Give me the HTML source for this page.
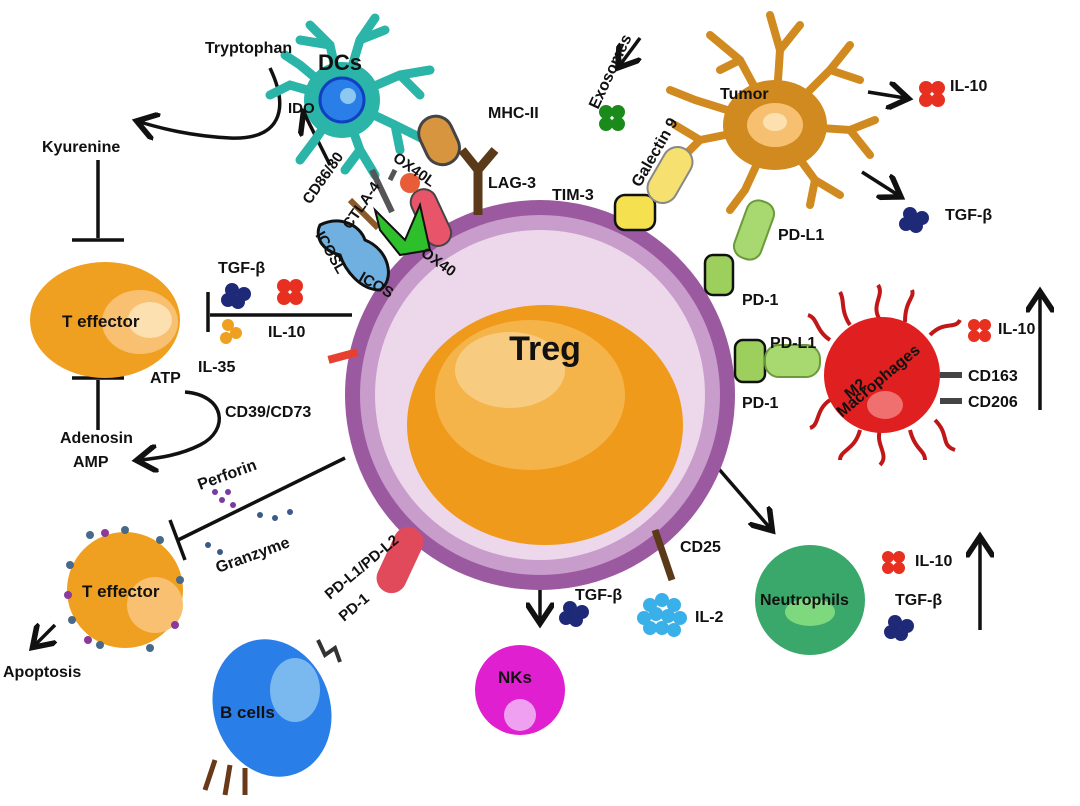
<!DOCTYPE html>
<html><head><meta charset="utf-8"><style>
html,body{margin:0;padding:0;background:#fff;width:1080px;height:806px;overflow:hidden}
text{font-family:"Liberation Sans",Arial,sans-serif;font-weight:bold;fill:#111}
</style></head><body>
<svg width="1080" height="806" viewBox="0 0 1080 806" xmlns="http://www.w3.org/2000/svg">
<defs>
<marker id="ar" markerWidth="8" markerHeight="8" refX="5" refY="4" orient="auto" markerUnits="strokeWidth"><path d="M0,0 L6,4 L0,8" fill="none" stroke="#111" stroke-width="1.6"/></marker>
</defs>
<g stroke="#111" stroke-width="3.5" fill="none">
<path d="M270,68 C290,110 280,140 230,138 C190,136 160,128 140,122" marker-end="url(#ar)"/>
<path d="M330,165 L305,115" marker-end="url(#ar)"/>
<line x1="98" y1="160" x2="98" y2="238"/><line x1="72" y1="240" x2="124" y2="240"/>
<line x1="98" y1="380" x2="98" y2="430"/><line x1="72" y1="378" x2="124" y2="378"/>
<line x1="210" y1="315" x2="352" y2="315"/><line x1="208" y1="292" x2="208" y2="332"/>
<path d="M185,392 C225,395 230,430 200,445 C180,455 160,458 140,460" marker-end="url(#ar)"/>
<line x1="345" y1="458" x2="178" y2="540"/><line x1="170" y1="520" x2="185" y2="560"/>
<line x1="55" y1="625" x2="35" y2="645" marker-end="url(#ar)"/>
<line x1="540" y1="570" x2="540" y2="620" marker-end="url(#ar)"/>
<line x1="718" y1="468" x2="770" y2="528" marker-end="url(#ar)"/>
<line x1="640" y1="38" x2="620" y2="65" marker-end="url(#ar)"/>
<line x1="868" y1="92" x2="905" y2="98" marker-end="url(#ar)"/>
<line x1="862" y1="172" x2="898" y2="195" marker-end="url(#ar)"/>
<line x1="1040" y1="410" x2="1040" y2="295" marker-end="url(#ar)"/>
<line x1="980" y1="630" x2="980" y2="540" marker-end="url(#ar)"/>
</g>
<!-- DCs -->
<g stroke="#2ab5a8" stroke-width="9" fill="none" stroke-linecap="round">
<path d="M342,100 L360,40 L375,18 M360,40 L385,30"/>
<path d="M342,100 L330,45 L310,25 M330,45 L300,40"/>
<path d="M342,100 L400,75 L430,70 M400,75 L420,95"/>
<path d="M342,100 L395,125 L425,140 M395,125 L400,150"/>
<path d="M342,100 L360,150 L375,175 M360,150 L345,170"/>
<path d="M342,100 L315,140 L300,160"/>
<path d="M342,100 L290,85 L270,95"/>
<path d="M342,100 L300,65 L285,55"/>
</g>
<circle cx="342" cy="100" r="38" fill="#2ab5a8"/>
<circle cx="342" cy="100" r="22" fill="#2a7ee8" stroke="#1040c0" stroke-width="3"/>
<circle cx="348" cy="96" r="8" fill="#8cc8f0"/>
<!-- Tumor -->
<g stroke="#d08a20" stroke-width="8" fill="none" stroke-linecap="round">
<path d="M775,125 L780,50 L770,15 M780,50 L800,25"/>
<path d="M775,125 L740,60 L710,35 M740,60 L720,70"/>
<path d="M775,125 L830,70 L850,45 M830,70 L860,80"/>
<path d="M775,125 L850,130 L875,120 M850,130 L870,155"/>
<path d="M775,125 L815,180 L810,205 M815,180 L840,195"/>
<path d="M775,125 L745,190 L730,210"/>
<path d="M775,125 L700,140 L680,160 M700,140 L675,125"/>
<path d="M775,125 L695,100 L670,90"/>
</g>
<ellipse cx="775" cy="125" rx="52" ry="45" fill="#d08a20"/>
<ellipse cx="775" cy="125" rx="28" ry="22" fill="#f6c070"/><ellipse cx="775" cy="122" rx="12" ry="9" fill="#fde0b0"/>
<!-- Treg -->
<circle cx="540" cy="395" r="195" fill="#9b5aa0"/>
<circle cx="540" cy="395" r="180" fill="#c89ccb"/>
<circle cx="540" cy="395" r="165" fill="#ecd8ea"/>
<ellipse cx="545" cy="425" rx="138" ry="120" fill="#f09a1c"/>
<ellipse cx="530" cy="395" rx="95" ry="75" fill="#f5b44a"/>
<ellipse cx="510" cy="370" rx="55" ry="38" fill="#f8cc80"/>
<text x="545" y="360" font-size="34" text-anchor="middle">Treg</text>
<!-- receptors -->
<rect x="422" y="115" width="34" height="50" rx="17" fill="#d89540" stroke="#444" stroke-width="3" transform="rotate(-25 440 140)"/>
<path d="M478,215 L478,170 L462,150 M478,170 L495,150" stroke="#5a3a18" stroke-width="9" fill="none"/>
<rect x="418" y="188" width="26" height="60" rx="13" fill="#e8546a" stroke="#444" stroke-width="2" transform="rotate(-25 430 218)"/>
<circle cx="410" cy="183" r="10" fill="#e85c38"/>
<line x1="395" y1="170" x2="390" y2="180" stroke="#555" stroke-width="5"/>
<line x1="350" y1="200" x2="378" y2="228" stroke="#8a5a2a" stroke-width="6"/>
<line x1="372" y1="170" x2="392" y2="212" stroke="#555" stroke-width="6"/>
<path d="M375,210 L405,240 L420,205 L430,250 L400,255 L380,230 Z" fill="#2dc02a" stroke="#111" stroke-width="2"/>
<path d="M320,225 C340,215 360,225 365,240 C390,250 395,280 380,290 C360,290 345,270 340,255 C320,250 315,235 320,225 Z" fill="#6fb0e0" stroke="#111" stroke-width="3"/>
<rect x="615" y="195" width="40" height="35" rx="10" fill="#f5e050" stroke="#111" stroke-width="2.5"/>
<rect x="655" y="145" width="30" height="60" rx="15" fill="#f5e070" stroke="#888" stroke-width="2" transform="rotate(30 670 175)"/>
<rect x="705" y="255" width="28" height="40" rx="8" fill="#9ccf5c" stroke="#111" stroke-width="2.5"/>
<rect x="740" y="200" width="28" height="60" rx="12" fill="#a8d870" stroke="#6a9a3a" stroke-width="2" transform="rotate(20 754 230)"/>
<rect x="735" y="340" width="30" height="42" rx="8" fill="#9ccf5c" stroke="#111" stroke-width="2.5"/>
<rect x="765" y="345" width="55" height="32" rx="14" fill="#a8d870" stroke="#6a9a3a" stroke-width="2"/>
<rect x="328" y="352" width="30" height="8" fill="#e84030" transform="rotate(-15 343 356)"/>
<rect x="385" y="525" width="30" height="70" rx="15" fill="#e04a5a" transform="rotate(25 400 560)"/>
<line x1="655" y1="530" x2="672" y2="580" stroke="#5a3a18" stroke-width="7"/>
<!-- T effector top -->
<ellipse cx="105" cy="320" rx="75" ry="58" fill="#f0a020"/>
<ellipse cx="140" cy="322" rx="38" ry="32" fill="#f8c070"/>
<ellipse cx="150" cy="320" rx="22" ry="18" fill="#fde0b0"/>
<text x="62" y="327" font-size="17">T effector</text>
<!-- T effector bottom -->
<circle cx="125" cy="590" r="58" fill="#f0a020"/>
<ellipse cx="155" cy="605" rx="28" ry="28" fill="#f8c070"/>
<g fill="#47698a"><circle cx="70" cy="565" r="4"/><circle cx="90" cy="535" r="4"/><circle cx="125" cy="530" r="4"/><circle cx="160" cy="540" r="4"/><circle cx="180" cy="580" r="4"/><circle cx="72" cy="620" r="4"/><circle cx="100" cy="645" r="4"/><circle cx="150" cy="648" r="4"/></g>
<g fill="#8a3a9a"><circle cx="105" cy="533" r="4"/><circle cx="68" cy="595" r="4"/><circle cx="88" cy="640" r="4"/><circle cx="175" cy="625" r="4"/></g>
<text x="82" y="597" font-size="17">T effector</text>
<!-- B cells -->
<ellipse cx="272" cy="708" rx="58" ry="70" fill="#2a7ee8" transform="rotate(-20 272 708)"/>
<ellipse cx="295" cy="690" rx="25" ry="32" fill="#7ab8f0"/>
<path d="M215,760 L205,790 M230,765 L225,795 M245,768 L245,795" stroke="#6a3a18" stroke-width="5"/>
<path d="M318,640 L325,655 L335,648 L340,662" stroke="#333" stroke-width="4" fill="none"/>
<text x="220" y="718" font-size="17">B cells</text>
<!-- NKs -->
<circle cx="520" cy="690" r="45" fill="#e020d0"/>
<circle cx="520" cy="715" r="16" fill="#f0a0f0"/>
<text x="498" y="683" font-size="17">NKs</text>
<!-- Neutrophils -->
<circle cx="810" cy="600" r="55" fill="#3aa86a"/>
<ellipse cx="810" cy="612" rx="25" ry="14" fill="#7ed87e"/>
<text x="760" y="605" font-size="16">Neutrophils</text>
<!-- M2 -->
<g stroke="#c01818" stroke-width="4" fill="none">
<path d="M880,320 C870,305 885,295 878,285 M930,335 C945,320 955,330 960,320 M935,420 C950,435 940,445 955,450 M880,430 C875,445 890,455 880,465 M830,400 C815,410 820,425 810,428 M830,340 C815,330 818,318 808,315 M905,322 C905,300 915,298 912,290 M850,325 C840,310 845,300 840,292 M860,430 C855,450 840,450 840,460 M910,430 C915,450 925,450 925,460"/>
</g>
<circle cx="882" cy="375" r="58" fill="#e02020"/>
<ellipse cx="885" cy="405" rx="18" ry="14" fill="#f07070"/>
<text x="0" y="0" font-size="16" transform="translate(850 400) rotate(-40)">M2</text>
<text x="0" y="0" font-size="16" transform="translate(842 418) rotate(-40)">Macrophages</text>
<rect x="940" y="372" width="22" height="6" fill="#444"/><rect x="940" y="398" width="22" height="6" fill="#444"/>
<!-- cytokines -->
<g fill="#1e2a78"><circle cx="232" cy="290" r="7"/><circle cx="244" cy="294" r="7"/><circle cx="238" cy="302" r="7"/><circle cx="228" cy="300" r="7"/>
<circle cx="910" cy="214" r="7"/><circle cx="922" cy="218" r="7"/><circle cx="916" cy="226" r="7"/><circle cx="906" cy="224" r="7"/>
<circle cx="570" cy="608" r="7"/><circle cx="582" cy="612" r="7"/><circle cx="576" cy="620" r="7"/><circle cx="566" cy="618" r="7"/>
<circle cx="895" cy="622" r="7"/><circle cx="907" cy="626" r="7"/><circle cx="901" cy="634" r="7"/><circle cx="891" cy="632" r="7"/></g>
<g fill="#e83020"><circle cx="284" cy="286" r="7"/><circle cx="296" cy="286" r="7"/><circle cx="284" cy="298" r="7"/><circle cx="296" cy="298" r="7"/>
<circle cx="926" cy="88" r="7"/><circle cx="938" cy="88" r="7"/><circle cx="926" cy="100" r="7"/><circle cx="938" cy="100" r="7"/>
<circle cx="974" cy="325" r="6"/><circle cx="985" cy="325" r="6"/><circle cx="974" cy="336" r="6"/><circle cx="985" cy="336" r="6"/>
<circle cx="888" cy="557" r="6"/><circle cx="899" cy="557" r="6"/><circle cx="888" cy="568" r="6"/><circle cx="899" cy="568" r="6"/></g>
<g fill="#1a8a1a"><circle cx="606" cy="112" r="7"/><circle cx="618" cy="112" r="7"/><circle cx="606" cy="124" r="7"/><circle cx="618" cy="124" r="7"/></g>
<g fill="#f0a020"><circle cx="228" cy="325" r="6"/><circle cx="236" cy="333" r="6"/><circle cx="226" cy="338" r="6"/></g>
<g fill="#3ab0e8"><circle cx="650" cy="605" r="7"/><circle cx="662" cy="600" r="7"/><circle cx="674" cy="605" r="7"/><circle cx="644" cy="618" r="7"/><circle cx="656" cy="614" r="7"/><circle cx="668" cy="616" r="7"/><circle cx="680" cy="618" r="7"/><circle cx="650" cy="628" r="7"/><circle cx="662" cy="628" r="7"/><circle cx="674" cy="630" r="7"/></g>
<g fill="#7a3aa0"><circle cx="215" cy="492" r="3"/><circle cx="228" cy="492" r="3"/><circle cx="222" cy="500" r="3"/><circle cx="233" cy="505" r="3"/></g>
<g fill="#3a5a8a"><circle cx="260" cy="515" r="3"/><circle cx="275" cy="518" r="3"/><circle cx="290" cy="512" r="3"/><circle cx="220" cy="552" r="3"/><circle cx="208" cy="545" r="3"/></g>
<!-- labels -->
<g font-size="16">
<text x="205" y="53">Tryptophan</text>
<text x="318" y="70" font-size="22">DCs</text>
<text x="288" y="113" font-size="15">IDO</text>
<text x="42" y="152">Kyurenine</text>
<text x="488" y="118">MHC-II</text>
<text x="488" y="188">LAG-3</text>
<text x="552" y="200">TIM-3</text>
<text transform="translate(640 188) rotate(-60)">Galectin 9</text>
<text transform="translate(598 110) rotate(-65)">Exosomes</text>
<text x="720" y="99">Tumor</text>
<text x="950" y="91">IL-10</text>
<text x="945" y="220">TGF-β</text>
<text x="778" y="240">PD-L1</text>
<text x="742" y="305">PD-1</text>
<text x="770" y="348">PD-L1</text>
<text x="742" y="408">PD-1</text>
<text x="998" y="334">IL-10</text>
<text x="968" y="381">CD163</text>
<text x="968" y="407">CD206</text>
<text x="915" y="566">IL-10</text>
<text x="895" y="605">TGF-β</text>
<text x="680" y="552">CD25</text>
<text x="575" y="600">TGF-β</text>
<text x="695" y="622">IL-2</text>
<text x="218" y="273">TGF-β</text>
<text x="268" y="337">IL-10</text>
<text x="198" y="372">IL-35</text>
<text x="150" y="383">ATP</text>
<text x="225" y="417">CD39/CD73</text>
<text x="60" y="443">Adenosin</text>
<text x="73" y="467">AMP</text>
<text transform="translate(200 490) rotate(-20)">Perforin</text>
<text transform="translate(218 573) rotate(-20)">Granzyme</text>
<text x="3" y="677">Apoptosis</text>
<text transform="translate(330 600) rotate(-40)" font-size="15">PD-L1/PD-L2</text>
<text transform="translate(344 622) rotate(-40)" font-size="15">PD-1</text>
<text transform="translate(310 205) rotate(-55)" font-size="15">CD86/80</text>
<text transform="translate(350 230) rotate(-55)" font-size="15">CTLA-4</text>
<text transform="translate(392 160) rotate(35)" font-size="15">OX40L</text>
<text transform="translate(420 255) rotate(35)" font-size="15">OX40</text>
<text transform="translate(315 235) rotate(60)" font-size="15">ICOSL</text>
<text transform="translate(358 280) rotate(30)" font-size="15">ICOS</text>
</g>
</svg>
</body></html>
